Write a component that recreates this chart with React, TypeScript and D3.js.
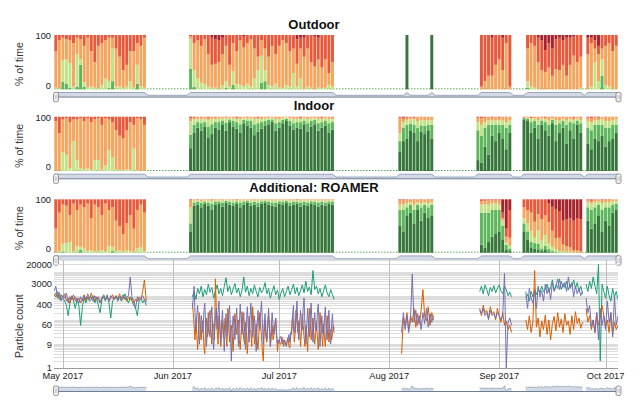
import React from 'react';
import * as d3 from 'd3';

const W = 640;
const H = 406;
const FONT = '"Liberation Sans", Arial, Helvetica, sans-serif';
const DAY = 864e5;
const HOUR = 36e5;
const PL = 54;
const PR = 618;

// ---------- categories (bottom -> top) ----------
const categoryNames = ['Very good', 'Good', 'Fair', 'Moderate', 'Poor', 'Very poor'];
const categoryColors = ['#36763a', '#5db65c', '#c3e38b', '#f5a65e', '#e7593b', '#a5232c'];

// ---------- Outdoor ----------
const outdoorBlocks: [string, number][] = [
  ['2017-04-29', 26], ['2017-06-06', 41], ['2017-08-06', 1], ['2017-08-13', 1],
  ['2017-08-27', 9], ['2017-09-09', 16], ['2017-09-26', 9],
];
const outdoorVeryGood = `
0 0 0 0 0 0 0 0 0 0  0 0 0 0 0 0 0 0 0 0  0 0 0 0 0 0
0 0 0 0 0 0 0 0 0 0  0 0 0 0 0 0 0 0 0 0  0 0 0 0 0 0 0 0 0 0  0 0 0 0 0 0 0 0 0 0  0
100
100
0 0 0 0 0 0 0 0 0
0 0 0 0 0 0 0 0 0 0  0 0 0 0 0 0
0 0 0 0 0 0 0 0 0`;
const outdoorGood = `
0 0 14 10 3 0 5 45 5 0  0 0 0 0 0 3 15 0 0 0  0 0 0 10 0 0
38 5 0 0 0 0 0 0 0 0  3 0 8 0 0 0 0 0 0 0  12 15 0 0 0 0 0 0 0 0  0 0 0 0 0 0 0 0 0 0  0
0
0
0 0 0 0 0 0 0 0 0
3 0 0 0 0 0 0 0 0 0  0 0 0 0 0 0
0 0 0 0 25 0 0 0 0`;
const outdoorFair = `
3 2 40 45 45 5 60 10 8 3  5 3 2 8 20 12 60 5 5 2  5 15 3 35 5 3
55 30 20 12 10 5 3 3 0 8  12 5 25 10 8 5 10 5 20 35  50 20 8 5 10 3 2 8 5 30  5 20 0 5 3 0 3 2 3 8  5
0
0
0 0 0 0 0 0 0 0 0
12 5 3 0 0 0 0 0 0 0  0 0 0 0 0 3
0 5 50 15 30 8 5 0 0`;
const outdoorPoor = `
30 10 5 8 10 15 5 8 20 5  30 50 20 15 10 5 5 25 40 65  55 30 30 15 20 5
2 15 10 20 8 35 50 45 40 30  20 55 15 30 10 20 15 8 25 40  10 25 40 20 35 20 10 15 30 25  45 20 35 25 50 55 40 60 45 70  50
0
0
95 85 75 70 55 45 60 15 95
25 15 20 45 55 40 45 50 55 60  45 70 50 35 50 40
30 10 15 15 25 20 15 30 20`;
const outdoorVeryPoor = `
0 0 0 0 0 0 0 0 0 0  0 0 0 0 0 0 0 0 0 0  0 0 0 0 0 0
0 0 0 0 0 0 5 8 10 5  0 0 0 0 0 3 0 0 0 0  0 0 0 0 0 0 0 0 0 0  8 5 5 0 0 3 5 0 0 0  0
0
0
0 0 0 5 0 0 5 0 0
0 0 0 5 10 28 15 25 8 5  10 5 5 3 0 0
5 5 10 20 0 0 0 0 0`;

// ---------- Indoor ----------
const indoorBlocks: [string, number][] = [
  ['2017-04-29', 26], ['2017-06-06', 41], ['2017-08-04', 10],
  ['2017-08-26', 10], ['2017-09-08', 17], ['2017-09-26', 9],
];
const indoorVeryGood = `
0 0 0 0 0 0 0 0 0 0  0 0 0 0 0 0 0 0 0 0  0 0 0 0 0 0
42 70 80 74 82 62 68 80 76 86  74 90 82 78 70 88 84 80 66 72  78 84 86 90 74 80 88 92 84 76  80 78 86 72 82 86 74 80 84 70  76
35 55 60 75 70 55 72 68 75 60
20 15 45 30 65 55 70 60 40 70
95 92 70 80 60 85 75 65 88 55  70 80 50 75 60 85 70
50 40 60 55 65 45 55 60 70`;
const indoorGood = `
0 0 0 0 0 0 0 0 0 0  0 0 0 0 0 0 0 0 0 0  0 0 0 0 0 0
25 15 10 14 8 20 18 10 14 7  15 5 10 12 16 6 9 12 20 16  12 8 8 5 14 10 6 4 8 12  10 12 7 16 10 8 14 10 8 18  14
20 25 25 12 15 25 12 15 10 25
55 50 35 55 20 30 15 25 40 15
3 4 20 12 25 8 15 20 6 30  18 12 35 15 28 8 18
30 35 25 30 20 35 25 25 15`;
const indoorFair = `
0 0 35 30 5 55 20 5 3 5  2 20 20 2 10 38 25 3 2 2  3 2 42 2 0 0
25 10 6 8 6 12 10 6 6 4  8 3 5 6 10 4 4 5 10 8  6 5 4 3 8 6 4 3 5 8  6 6 4 8 5 4 8 6 5 8  6
15 10 8 8 10 12 10 10 8 8
15 20 10 8 8 8 8 8 10 8
1 2 6 5 8 4 6 8 3 8  6 4 8 6 6 4 6
12 15 8 8 10 12 12 8 10`;
const indoorPoor = `
8 30 5 3 10 5 5 3 8 3  10 5 3 15 3 5 10 25 35 40  25 10 15 3 5 15
3 2 0 1 0 2 0 1 0 0  1 0 0 2 0 0 1 0 0 2  0 0 1 0 0 0 0 0 1 0  0 2 0 0 0 1 0 2 0 0  1
2 3 2 0 2 0 1 0 0 0
2 3 2 0 2 0 2 0 1 0
1 0 2 0 0 1 2 0 1 0  0 1 0 0 2 0 1
2 3 1 2 0 1 0 1 0`;
const indoorVeryPoor = `
0 0 0 0 0 0 0 0 0 0  0 0 0 0 0 0 0 0 0 0  0 0 0 0 0 0
0 0 0 0 0 0 0 0 0 0  0 0 0 0 0 0 0 0 0 0  0 0 0 0 0 0 0 0 0 0  0 0 0 0 0 0 0 0 0 0  0
0 1 0 0 0 0 0 0 0 0
0 0 0 0 0 0 0 0 0 0
0 0 0 0 0 0 0 0 0 0  0 0 0 0 0 0 0
0 0 0 0 0 0 0 0 0`;

// ---------- Additional: ROAMER ----------
const roamerBlocks: [string, number][] = [
  ['2017-04-29', 26], ['2017-06-06', 41], ['2017-08-04', 10],
  ['2017-08-27', 9], ['2017-09-08', 17], ['2017-09-26', 9],
];
const roamerVeryGood = `
0 0 0 0 0 0 0 0 0 0  0 0 0 0 0 0 0 0 0 0  0 0 0 0 0 0
40 88 90 85 92 88 80 90 92 86  94 90 88 92 85 90 94 88 90 86  92 94 90 88 86 92 90 94 88 90  92 86 90 88 92 90 86 90 88 92  90
50 40 70 75 55 80 60 75 65 70
15 10 20 30 35 40 25 5 3
40 25 10 8 5 3 5 2 0 0  0 0 0 0 0 0 0
60 45 55 70 40 60 50 75 80`;
const roamerGood = `
0 0 2 0 0 0 0 6 0 0  0 0 0 0 0 0 3 0 0 0  0 0 0 0 0 0
15 6 5 8 4 6 12 5 4 8  3 5 6 4 8 5 3 6 5 8  4 3 5 6 8 4 5 3 6 5  4 8 5 6 4 5 8 5 6 4  5
30 40 15 15 25 10 25 15 20 20
60 65 55 50 45 40 25 10 5
15 15 10 10 12 5 8 5 3 2  0 0 0 0 0 0 0
25 35 30 20 40 25 35 15 12`;
const roamerFair = `
0 3 15 18 20 3 12 5 8 3  5 3 3 5 3 12 8 3 5 2  5 3 2 8 10 3
30 4 3 4 2 4 5 3 2 4  2 3 4 2 5 3 2 4 3 4  3 2 3 4 4 3 3 2 4 3  2 4 3 4 3 3 4 3 4 2  3
10 10 8 5 10 5 8 5 8 5
15 15 15 12 12 10 10 5 5
10 15 20 10 25 15 20 10 8 5  3 3 2 2 0 0 0
10 12 10 6 12 10 10 6 5`;
const roamerPoor = `
55 25 10 12 30 8 20 10 15 8  35 10 15 30 8 20 15 40 50 65  45 30 55 20 10 25
2 0 1 0 0 0 1 0 0 0  0 0 0 1 0 0 0 0 0 0  0 0 0 0 0 0 0 0 0 0  1 0 0 0 0 0 0 0 0 0  0
2 2 1 0 1 0 1 0 1 1
3 3 2 2 2 2 10 15 52
15 20 25 42 28 37 30 35 45 55  50 45 50 55 55 60 60
2 3 1 0 2 1 1 0 0`;
const roamerVeryPoor = `
0 0 0 0 0 0 0 0 0 0  0 0 0 0 0 0 0 0 0 0  0 0 0 0 0 0
0 0 0 0 0 0 0 0 0 0  0 0 0 0 0 0 0 0 0 0  0 0 0 0 0 0 0 0 0 0  0 0 0 0 0 0 0 0 0 0  0
0 0 0 0 0 0 0 0 0 0
0 0 0 0 0 0 25 55 20
0 0 0 0 0 0 0 8 14 18  22 40 38 35 40 35 37
0 0 0 0 0 0 0 0 0`;

// ---------- Particle counts per measuring period ----------
const seriesNames = ['Outdoor', 'Indoor', 'ROAMER'];
const seriesColors = ['#1b9e77', '#d95f02', '#7570b3'];
const periodStarts = ['2017-04-28T12:00', '2017-06-06T12:00', '2017-08-04T12:00', '2017-08-26T12:00', '2017-09-08T12:00', '2017-09-25T12:00'];
// reading interval (hours) of each period, per series
const greenStepHours = [12, 12, 12, 12, 12, 12];
const orangeStepHours = [12, 6, 12, 12, 12, 12];
const purpleStepHours = [12, 6, 12, 12, 12, 12];
const greenCounts = [
  '1200 900 1500 700 1100 800 600 400 150 500 900 600 300 700 400 60 350 800 500 900 600 700 1000 500 800 400 200 700 900 600 1100 500 120 600 800 1000 700 900 600 800 1200 700 500 900 600 400 300 150 600 800 500 700 400',
  '900 1500 700 2000 1200 2500 900 1800 1100 3000 1400 2200 800 1600 2800 1200 2000 1000 2400 5500 1500 2600 1100 1900 3200 1300 2100 900 1700 6000 1400 2500 1000 2000 1200 2800 1500 900 2200 1300 1800 3500 1200 2000 800 1500 2600 1100 1700 700 1300 2000 900 1500 2500 1100 1800 3000 1200 2200 1000 1600 2800 1300 4000 1500 2300 1100 11000 1800 2500 1200 2000 900 1600 2800 1300 900 1800 1100 700',
  '',
  '1500 2500 1200 2800 1800 1000 2200 1500 2600 1300 2000 2800 1600 1200 2500 1800 1000 1400 900',
  '800 1200 600 1500 900 1800 1100 2000 1300 2500 1500 1800 3000 1400 2200 4500 1600 2800 2000 5000 1800 3200 2200 4000 1700 3000 2400 4500 2000 3500 1500 2500 1200',
  '3000 1500 4000 2000 6000 2500 1200 20000 2 3000 1500 800 2500 1000 600 2000 900 1500 700',
];
const orangeCounts = [
  '1000 1300 800 1100 700 900 1200 600 800 500 1000 700 900 600 800 500 700 1100 600 900 700 1300 800 600 900 700 500 800 1000 700 900 600 800 1100 700 900 800 1200 700 1000 800 600 900 700 800 500 700 600 900 700 1500 4500 600',
  `500 200 60 15 80 25 6 40 200 30  15 90 60 8 4 50 120 20 30 150  250 40 10 60 70 15 5000 300 40 10
   150 60 8 25 90 20 35 120 20 8  300 80 12 30 60 20 5 40 180 60  25 90 100 15 6 30 220 50 15 10
   80 30 4 20 140 40 30 8 350 90  10 30 70 15 6 25 200 60 20 5  2 30 90 20 12 50 160 40 8 20
   60 15 25 60 120 30 5 12 15 10  10 20 12 8 14 10 9 15 18 8  7 25 40 150 60 12 30 250 80 30
   90 40 8 30 180 60 20 8 60 25  5 40 300 80 15 40 120 30 10 25  80 20 6 30 200 50 25 8 70 20
   8 40 150 60 12 30 40 15 25 60  40`,
  '4 120 60 200 40 150 80 300 50 180 70 250 1800 140 90 350 60 200 100',
  '300 150 400 200 250 120 350 180 220 100 300 150 80 200 60 90 40 60 30',
  '100 40 150 30 80 11000 50 120 20 90 40 160 25 100 15 70 140 35 200 50 110 30 180 60 90 25 150 40 220 70 120 45 80',
  '300 80 150 40 100 30 200 60 120 400 150 50 100 30 200 25 80 40 60',
];
const purpleCounts = [
  '1500 2500 900 1400 600 1000 800 1300 500 900 700 1100 600 800 500 900 600 1000 700 1200 800 900 600 1000 700 900 500 800 1100 700 900 600 1000 800 700 1000 600 900 800 1100 700 900 1000 6000 800 700 300 900 600 800 1000 700 500',
  `300 800 2500 200 40 150 400 60 10 40  150 80 30 200 500 60 8 50 200 40  20 120 350 40 6 30 120 300 40 200
   600 50 12 80 250 40 5 60 180 20  30 150 400 30 2 40 150 60 15 80  300 50 8 70 450 100 25 60 200 30
   6 80 350 60 12 120 500 80 20 60  150 30 5 50 250 60 40 200 600 80  10 60 180 30 15 80 300 40 8 50
   200 60 25 40 120 20 10 15 12 20  20 12 10 15 15 10 8 12 18 25  12 30 25 150 400 40 30 200 600 60
   15 80 250 40 40 300 800 60 10 50  300 80 20 150 500 60 12 60 200 40  35 200 450 50 8 40 150 30 25 120
   350 40 15 70 250 30 10 60 180 40  30`,
  '30 200 40 150 30 100 8000 80 250 60 150 40 200 70 300 50 180 80 150',
  '250 180 300 150 200 100 250 150 180 120 200 150 100 150 8500 1 80 120 60',
  '1500 300 2000 800 500 1500 300 2500 900 1600 600 3000 1200 2200 700 3500 1500 2500 5000 1800 4000 2200 3500 1500 6000 2000 3500 900 2500 1200 2000 1000 1500',
  '800 200 400 50 100 30 200 15 300 60 150 40 600 80 200 20 1000 60 150',
];

const yTicksCount = [1, 9, 60, 400, 3000, 20000];
const monthTicks = ['2017-05-01', '2017-06-01', '2017-07-01', '2017-08-01', '2017-09-01', '2017-10-01'];
const monthLabels = ['May 2017', 'Jun 2017', 'Jul 2017', 'Aug 2017', 'Sep 2017', 'Oct 2017'];

// ---------- helpers ----------
const nums = (s: string): number[] => s.trim().split(/\s+/).filter(Boolean).map(Number);
const utc = (s: string) => new Date(s.length <= 10 ? s + 'T00:00:00Z' : s + ':00Z');

function blockDates(blocks: [string, number][]): number[] {
  const out: number[] = [];
  for (const [s, n] of blocks) {
    const d0 = +utc(s);
    for (let i = 0; i < n; i++) out.push(d0 + i * DAY);
  }
  return out;
}

type PanelSpec = {
  title: string; titleY: number; top: number; bottom: number;
  blocks: [string, number][];
  vg: string; g: string; f: string; p: string; vp: string;
};

const panels: PanelSpec[] = [
  { title: 'Outdoor', titleY: 29, top: 35, bottom: 89.3, blocks: outdoorBlocks, vg: outdoorVeryGood, g: outdoorGood, f: outdoorFair, p: outdoorPoor, vp: outdoorVeryPoor },
  { title: 'Indoor', titleY: 109.5, top: 116.7, bottom: 171, blocks: indoorBlocks, vg: indoorVeryGood, g: indoorGood, f: indoorFair, p: indoorPoor, vp: indoorVeryPoor },
  { title: 'Additional: ROAMER', titleY: 191.5, top: 199.3, bottom: 252.7, blocks: roamerBlocks, vg: roamerVeryGood, g: roamerGood, f: roamerFair, p: roamerPoor, vp: roamerVeryPoor },
];

const T0 = utc('2017-04-28T12:00');
const T1 = utc('2017-10-04T12:00');

function Handle({ cx, y }: { cx: number; y: number }) {
  return (
    <g>
      <rect x={cx - 2.5} y={y} width={5} height={9.5} rx={1.8} fill="#f4f4f4" stroke="#7a7a7a" strokeWidth={0.8} />
      <line x1={cx - 0.6} x2={cx - 0.6} y1={y + 2.5} y2={y + 7} stroke="#aaa" strokeWidth={0.6} />
      <line x1={cx + 0.8} x2={cx + 0.8} y1={y + 2.5} y2={y + 7} stroke="#aaa" strokeWidth={0.6} />
    </g>
  );
}

function BarPanel({ spec, x }: { spec: PanelSpec; x: d3.ScaleTime<number, number> }) {
  const y = d3.scaleLinear().domain([0, 100]).range([spec.bottom, spec.top]);
  const dates = blockDates(spec.blocks);
  const vg = nums(spec.vg), g = nums(spec.g), f = nums(spec.f), p = nums(spec.p), vp = nums(spec.vp);
  const rects: React.ReactNode[] = [];
  dates.forEach((d, i) => {
    const a = vg[i] || 0, b = g[i] || 0, c = f[i] || 0, e = p[i] || 0, h = vp[i] || 0;
    const moderate = Math.max(0, 100 - (a + b + c + e + h));
    const vals = [a, b, c, moderate, e, h];
    const x0 = x(new Date(d - DAY / 2));
    const x1 = x(new Date(d + DAY / 2));
    let cum = 0;
    vals.forEach((v, k) => {
      if (v <= 0) return;
      const yt = y(cum + v), yb = y(cum);
      rects.push(
        <rect key={i + '-' + k} x={x0 + 0.3} y={yt} width={Math.max(0.5, x1 - x0 - 0.6)} height={yb - yt} fill={categoryColors[k]} />
      );
      cum += v;
    });
  });

  // range selector mini plot
  const present = new Set(dates);
  const pts: [number, number][] = [];
  const first = +utc('2017-04-29');
  const last = +utc('2017-10-04');
  pts.push([+T0, present.has(first) ? 100 : 0]);
  for (let t = first; t <= last; t += DAY) pts.push([t, present.has(t) ? 100 : 0]);
  pts.push([+T1, present.has(last) ? 100 : 0]);
  const base = spec.bottom + 7.8;
  const ym = d3.scaleLinear().domain([0, 100]).range([spec.bottom + 6, spec.bottom + 3.2]);
  const area = d3.area<[number, number]>().x(q => x(new Date(q[0]))).y0(base).y1(q => ym(q[1]));
  const top = d3.line<[number, number]>().x(q => x(new Date(q[0]))).y(q => ym(q[1]));

  const midY = (spec.top + spec.bottom) / 2 + 2;
  return (
    <g>
      <text x={314} y={spec.titleY} textAnchor="middle" fontSize={13} fontWeight="bold" fill="#111">{spec.title}</text>
      <line x1={PL} x2={PR} y1={spec.bottom - 0.5} y2={spec.bottom - 0.5} stroke="#5ea65e" strokeWidth={1} strokeDasharray="1.5,1.5" />
      {rects}
      <text x={51} y={spec.top + 1.5} textAnchor="end" dominantBaseline="middle" fontSize={9.3} fill="#222">100</text>
      <text x={51} y={spec.bottom - 3} textAnchor="end" dominantBaseline="middle" fontSize={9.3} fill="#222">0</text>
      <text transform={`translate(20,${midY}) rotate(-90)`} textAnchor="middle" dominantBaseline="middle" fontSize={10.5} fill="#333">% of time</text>
      <path d={area(pts) || ''} fill="#d3dae6" />
      <path d={top(pts) || ''} fill="none" stroke="#8593ab" strokeWidth={0.8} />
      <line x1={PL} x2={PR} y1={base} y2={base} stroke="#6f7d95" strokeWidth={1} />
      <Handle cx={56} y={spec.bottom + 3} />
      <Handle cx={618.5} y={spec.bottom + 3} />
    </g>
  );
}

function LinePanel({ x }: { x: d3.ScaleTime<number, number> }) {
  const TOP = 260, BOT = 368.3;
  const y = d3.scaleLog().domain([1, 30000]).range([BOT, TOP]);
  const grid: number[] = [];
  for (let n = 0; n <= 4; n++) for (let k = 1; k <= 9; k++) { const v = k * Math.pow(10, n); if (v <= 30000) grid.push(v); }
  const line = d3.line<[number, number]>().x(q => x(new Date(q[0]))).y(q => y(Math.max(1, q[1])));
  const all = [greenCounts, orangeCounts, purpleCounts];
  const steps = [greenStepHours, orangeStepHours, purpleStepHours];
  const paths: React.ReactNode[] = [];
  const minis: React.ReactNode[] = [];
  const miniBase = 391.5;
  const miniY = (v: number) => miniBase - (Math.log10(Math.max(1, v)) / 4.5) * 6.5;
  periodStarts.forEach((s, si) => {
    const t0 = +utc(s);
    all.forEach((series, ci) => {
      const vals = nums(series[si]);
      if (!vals.length) return;
      const step = steps[ci][si] * HOUR;
      const pts = vals.map((v, i) => [t0 + i * step, v] as [number, number]);
      paths.push(<path key={si + '-' + ci} d={line(pts) || ''} fill="none" stroke={seriesColors[ci]} strokeWidth={1} />);
      if (ci === 2) {
        const mArea = d3.area<[number, number]>().x(q => x(new Date(q[0]))).y0(miniBase).y1(q => miniY(q[1]));
        const mLine = d3.line<[number, number]>().x(q => x(new Date(q[0]))).y(q => miniY(q[1]));
        minis.push(<path key={'ma' + si} d={mArea(pts) || ''} fill="#d3dae6" />);
        minis.push(<path key={'ml' + si} d={mLine(pts) || ''} fill="none" stroke="#8593ab" strokeWidth={0.7} />);
      }
    });
  });
  return (
    <g>
      <defs>
        <clipPath id="plotclip"><rect x={PL} y={TOP} width={PR - PL} height={BOT - TOP} /></clipPath>
        <clipPath id="miniclip"><rect x={PL} y={385} width={PR - PL} height={7} /></clipPath>
      </defs>
      {grid.map(v => (
        <line key={'g' + v} x1={PL} x2={PR} y1={Math.round(y(v)) + 0.5} y2={Math.round(y(v)) + 0.5} stroke="#dcdcdc" strokeWidth={1} />
      ))}
      {monthTicks.map(m => {
        const xx = Math.round(x(utc(m))) + 0.5;
        return <line key={m} x1={xx} x2={xx} y1={TOP} y2={BOT} stroke="#bdbdbd" strokeWidth={1} />;
      })}
      <g clipPath="url(#plotclip)">{paths}</g>
      <line x1={PL} x2={PR} y1={BOT + 0.2} y2={BOT + 0.2} stroke="#9a9a9a" strokeWidth={1} />
      {yTicksCount.map(v => (
        <text key={'t' + v} x={52} y={y(v) + (v === 20000 ? 1 : 0)} textAnchor="end" dominantBaseline="middle" fontSize={9.3} fill="#222">{v}</text>
      ))}
      {monthTicks.map((m, i) => (
        <text key={'l' + m} x={x(utc(m))} y={377} textAnchor="middle" dominantBaseline="middle" fontSize={9.3} fill="#222">{monthLabels[i]}</text>
      ))}
      <text transform={`translate(20,${(TOP + BOT) / 2 + 12}) rotate(-90)`} textAnchor="middle" dominantBaseline="middle" fontSize={10.5} fill="#333">Particle count</text>
      <g clipPath="url(#miniclip)">{minis}</g>
      <line x1={PL} x2={PR} y1={miniBase} y2={miniBase} stroke="#6f7d95" strokeWidth={1} />
      <Handle cx={56} y={386} />
      <Handle cx={618.5} y={386} />
    </g>
  );
}

export default function App() {
  const x = d3.scaleUtc().domain([T0, T1]).range([PL, PR]);
  return (
    <svg width={W} height={H} viewBox={`0 0 ${W} ${H}`} style={{ position: 'absolute', left: 0, top: 0, background: '#fff' }} fontFamily={FONT}>
      <rect x={0} y={0} width={W} height={H} fill="#fff" />
      {panels.map(p => <BarPanel key={p.title} spec={p} x={x} />)}
      <LinePanel x={x} />
    </svg>
  );
}
